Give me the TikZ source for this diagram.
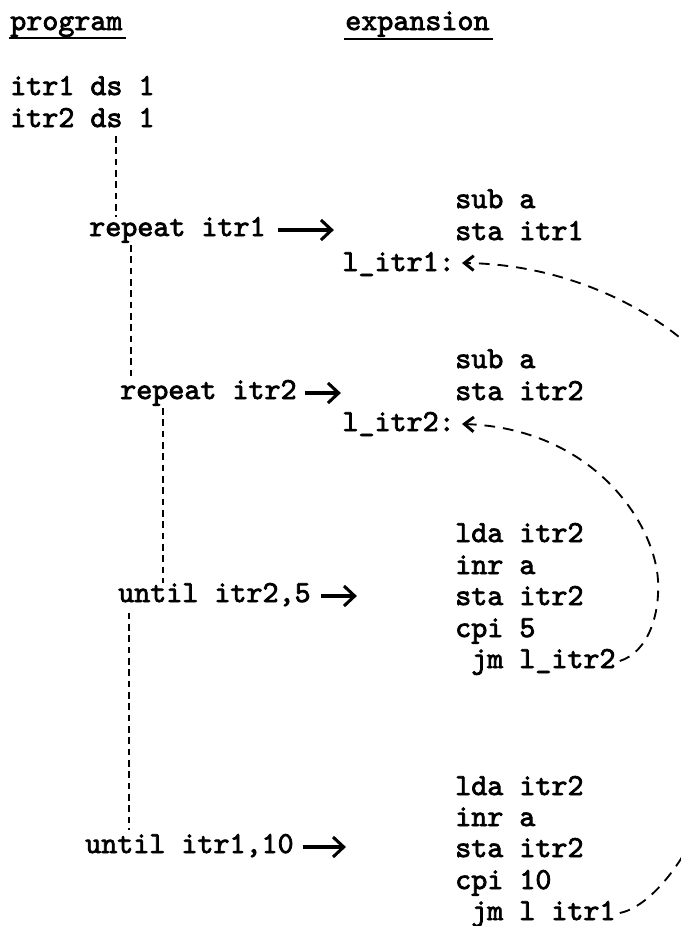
\documentclass[tikz,border=0pt]{standalone}
\usepackage{fontspec}
\usetikzlibrary{arrows.meta,calc}
% typewriter face, emboldened to a typed look
\newfontfamily\tw{lmmono10-regular.otf}[FakeBold=2.5]

\tikzset{
  txt/.style={font=\tw\fontsize{22.9}{27}\selectfont, inner sep=0pt, anchor=base west},
  rtxt/.style={txt, anchor=base east},
  uline/.style={line width=1.6pt},
  vline/.style={line width=1pt, dash pattern=on 5pt off 3.5pt},
  bigarrow/.style={line width=2.3pt, -{Straight Barb[length=8pt,width=15pt]}},
  loopline/.style={line width=1.4pt, dash pattern=on 8pt off 6pt,
    -{Straight Barb[length=7pt,width=11pt,line width=2.2pt]}}
}

\begin{document}
\begin{tikzpicture}[x=0.75pt,y=-0.75pt]
\useasboundingbox (0,0) rectangle (681,926);
\clip (0,0) rectangle (681,926);

% column headings
\node[txt] (hprog) at (10,30) {program};
\node[txt] (hexp)  at (345,30) {expansion};
\draw[uline] ($(hprog.base west)+(-1,8)$) -- ($(hprog.base east)+(3,8)$);
\draw[uline] ($(hexp.base west)+(-1,9)$) -- ($(hexp.base east)+(3,9)$);

% source program
\node[txt] (ds1)  at (10,95)   {itr1 ds 1};
\node[txt] (ds2)  at (10,127)  {itr2 ds 1};
\node[txt] (rep1) at (89,236)  {repeat itr1};
\node[txt] (rep2) at (120,399) {repeat itr2};
\node[txt] (unt1) at (118,602) {until itr2,5};
\node[txt] (unt2) at (85,853)  {until itr1,10};

% nesting guides
\draw[vline] ($(ds2.base west)+(106,9)$) -- ($(rep1.north west)+(27,0)$);
\draw[vline] ($(rep1.south west)+(42,2)$) -- ($(rep2.north west)+(11,0)$);
\draw[vline] ($(rep2.south west)+(43,2)$) -- ($(unt1.north west)+(45,0)$);
\draw[vline] ($(unt1.south west)+(11,6)$) -- ($(unt2.north west)+(44,-4)$);

% macro expansions
\node[txt]  (sub1) at (455,208) {sub a};
\node[txt]  (sta1) at (455,240) {sta itr1};
\node[rtxt] (lab1) at (455,271) {l\_itr1:};

\node[txt]  (sub2) at (455,368) {sub a};
\node[txt]  (sta2) at (455,400) {sta itr2};
\node[rtxt] (lab2) at (455,431) {l\_itr2:};

\node[txt] (lda3) at (455,542) {lda itr2};
\node[txt] (inr3) at (455,574) {inr a};
\node[txt] (sta3) at (455,605) {sta itr2};
\node[txt] (cpi3) at (455,637) {cpi 5};
\node[txt] (jm3)  at (471,668) {jm l\_itr2};

\node[txt] (lda4) at (455,795) {lda itr2};
\node[txt] (inr4) at (455,826) {inr a};
\node[txt] (sta4) at (455,857) {sta itr2};
\node[txt] (cpi4) at (455,889) {cpi 10};
\node[txt] (jm4)  at (471,920) {jm l itr1};

% expansion arrows
\coordinate (a1) at ($(rep1.base east)+(68,-6)$);
\coordinate (a2) at ($(rep2.base east)+(44,-6)$);
\coordinate (a3) at ($(unt1.base east)+(46,-6)$);
\coordinate (a4) at ($(unt2.base east)+(52,-6)$);
\draw[bigarrow] ($(rep1.base east)+(12,-6)$) -- (a1);
\draw[bigarrow] ($(rep2.base east)+(8,-6)$) -- (a2);
\draw[bigarrow] ($(unt1.base east)+(10,-6)$) -- (a3);
\draw[bigarrow] ($(unt2.base east)+(9,-6)$) -- (a4);

% inner loop jump
\draw[loopline] ($(jm3.base east)+(4,-7)$)
  .. controls (648,652) and (660,615) .. (658,580)
  .. controls (654,520) and (590,428) .. ($(lab2.base east)+(7,-7)$);

% outer loop jump, passing beyond the right margin
\draw[loopline] ($(jm4.base east)+(4,-7)$)
  .. controls (640,909) and (668,885) .. (692,840)
  .. controls (760,720) and (770,420) .. (692,348)
  .. controls (645,305) and (562,264) .. ($(lab1.base east)+(7,-8)$);
\end{tikzpicture}
\end{document}
